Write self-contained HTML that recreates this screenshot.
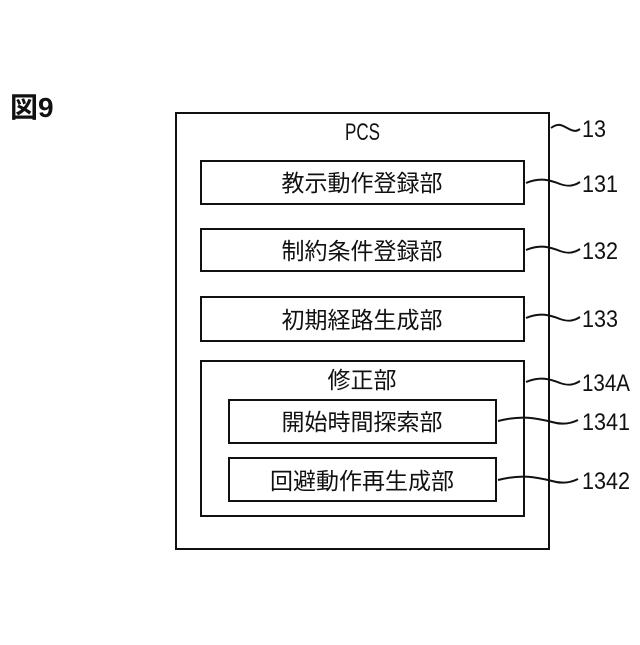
<!DOCTYPE html>
<html><head><meta charset="utf-8"><style>
body{margin:0;background:#fff;}
svg text{font-family:"Liberation Sans","Noto Sans CJK JP",sans-serif;fill:#111;}
</style></head><body>
<svg width="640" height="640" viewBox="0 0 640 640" xmlns="http://www.w3.org/2000/svg">
<text x="10" y="117" font-size="28" font-weight="bold">図9</text>
<g fill="none" stroke="#111" stroke-width="2">
<rect x="176" y="113" width="373" height="436"/>
<rect x="201" y="161" width="323" height="43"/>
<rect x="201" y="229" width="323" height="42"/>
<rect x="201" y="297" width="323" height="44"/>
<rect x="201" y="361" width="323" height="155"/>
<rect x="229" y="400" width="267" height="43"/>
<rect x="229" y="458" width="267" height="43"/>
<path d="M551 128 c8 -6 12 -2 18 1 c6 3 8 2 11 0"/>
<path d="M526 183 c14 -6 24 -3 34 1 c8 3 14 2 20 -2"/>
<path d="M526 250 c14 -6 24 -3 34 1 c8 3 14 2 20 -2"/>
<path d="M526 318 c14 -6 24 -3 34 1 c8 3 14 2 20 -2"/>
<path d="M526 382 c14 -6 24 -3 34 1 c8 3 14 2 20 -2"/>
<path d="M498 421 c24 -6 38 -3 54 1 c10 3 18 2 26 -2"/>
<path d="M498 480 c24 -6 38 -3 54 1 c10 3 18 2 26 -2"/>
</g>
<text x="345" y="140" font-size="24" textLength="35" lengthAdjust="spacingAndGlyphs">PCS</text>
<g font-size="23" text-anchor="middle">
<text x="362" y="191">教示動作登録部</text>
<text x="362" y="259">制約条件登録部</text>
<text x="362" y="328">初期経路生成部</text>
<text x="362" y="388">修正部</text>
<text x="362" y="430">開始時間探索部</text>
<text x="362" y="489">回避動作再生成部</text>
</g>
<g font-size="24">
<text x="582" y="137" textLength="24" lengthAdjust="spacingAndGlyphs">13</text>
<text x="582" y="192" textLength="36" lengthAdjust="spacingAndGlyphs">131</text>
<text x="582" y="259" textLength="36" lengthAdjust="spacingAndGlyphs">132</text>
<text x="582" y="327" textLength="36" lengthAdjust="spacingAndGlyphs">133</text>
<text x="582" y="391" textLength="48" lengthAdjust="spacingAndGlyphs">134A</text>
<text x="582" y="430" textLength="48" lengthAdjust="spacingAndGlyphs">1341</text>
<text x="582" y="489" textLength="48" lengthAdjust="spacingAndGlyphs">1342</text>
</g>
</svg>
</body></html>
